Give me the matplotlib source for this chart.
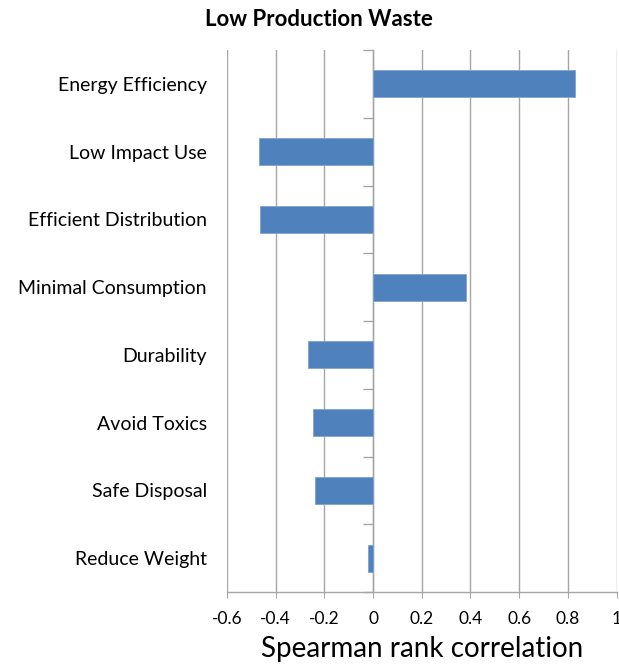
import matplotlib
matplotlib.use("Agg")
import matplotlib.pyplot as plt
import numpy as np

categories = ["Energy Efficiency", "Low Impact Use", "Efficient Distribution",
              "Minimal Consumption", "Durability", "Avoid Toxics",
              "Safe Disposal", "Reduce Weight"]
values = [0.83, -0.47, -0.463, 0.381, -0.266, -0.247, -0.24, -0.02]
xticks = [-0.6, -0.4, -0.2, 0, 0.2, 0.4, 0.6, 0.8, 1.0]
xtick_labels = ["-0.6", "-0.4", "-0.2", "0", "0.2", "0.4", "0.6", "0.8", "1"]

plt.rcParams['font.family'] = ['Lato', 'DejaVu Sans']

fig = plt.figure(figsize=(6.19, 6.64), dpi=100)
ax = fig.add_axes([0.3667, 0.1084, 0.6294, 0.8163])

n = len(categories)
pos = np.arange(n)[::-1]  # first category on top
ax.barh(pos, values, height=0.4, color="#4f81bd", edgecolor="#7fa3d0",
        linewidth=0.6, zorder=3)

ax.set_xlim(-0.6, 1.0)
ax.set_ylim(-0.5, n - 0.5)

grid_col = "#a6a6a6"
ax.set_xticks(xticks)
ax.set_xticklabels(xtick_labels, fontsize=12.5)
ax.xaxis.grid(True, color=grid_col, linewidth=1.0, zorder=0)
ax.tick_params(axis='x', length=4, color=grid_col, pad=10)

ax.set_yticks(pos)
ax.set_yticklabels(categories, fontsize=14)
ax.tick_params(axis='y', length=0, pad=14.5)

for s in ['top', 'right', 'left']:
    ax.spines[s].set_visible(False)
ax.spines['bottom'].set_color(grid_col)
ax.spines['bottom'].set_linewidth(1.0)

# category separators on the zero axis
zero_frac = (0 - (-0.6)) / (1.0 - (-0.6))
sec = ax.secondary_yaxis(zero_frac)
sec.set_yticks(np.arange(n + 1) - 0.5)
sec.set_yticklabels([])
sec.tick_params(axis='y', length=7, color=grid_col, width=1.0)
sec.spines['left'].set_color(grid_col)
sec.spines['left'].set_linewidth(1.0)

ax.set_xlabel("Spearman rank correlation", fontsize=20, labelpad=6.5)
fig.text(0.516, 0.97, "Low Production Waste", ha='center', va='center',
         fontsize=16, fontweight='bold')

fig.savefig("out.png", dpi=100)
